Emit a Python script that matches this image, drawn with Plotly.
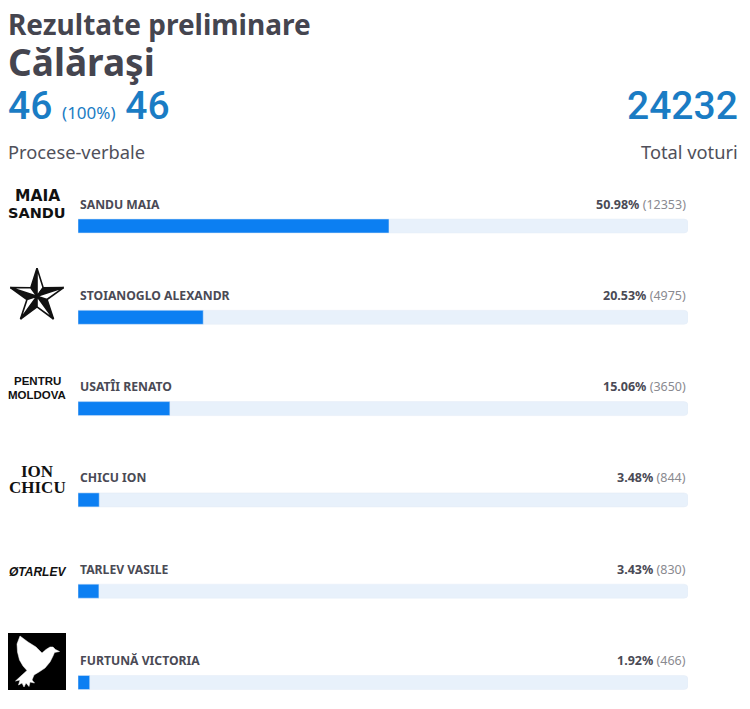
import math
import plotly.graph_objects as go

# --- data ---
district = 'Călăraşi'
pv_counted = 46
pv_share = 100
pv_total = 46
total_votes = 24232

candidates = ['SANDU MAIA', 'STOIANOGLO ALEXANDR', 'USATÎI RENATO',
              'CHICU ION', 'TARLEV VASILE', 'FURTUNĂ VICTORIA']
percents = [50.98, 20.53, 15.06, 3.48, 3.43, 1.92]
votes = [12353, 4975, 3650, 844, 830, 466]

W, H = 750, 709
ROW_PX = 91.3          # distance between rows in pixels
FIRST_ROW_PX = 226     # centre of first bar
BAR_PX = 14

FONT = 'Noto Sans'
NUM_FONT = 'Roboto'
DARK = '#45454f'
BLUE_TXT = '#1a7cc4'
BLUE_BAR = '#0c7ff2'
TRACK = '#e8f1fb'

rows = list(range(len(candidates)))
y_top = -FIRST_ROW_PX / ROW_PX
y_bot = (H - FIRST_ROW_PX) / ROW_PX

fig = go.Figure()
fig.add_trace(go.Bar(y=rows, x=[100] * len(rows), orientation='h', width=BAR_PX / ROW_PX,
                     marker=dict(color=TRACK, cornerradius=4), hoverinfo='skip', showlegend=False))
fig.add_trace(go.Bar(y=rows, x=percents, orientation='h', width=BAR_PX / ROW_PX,
                     marker=dict(color=BLUE_BAR, cornerradius=4), showlegend=False,
                     customdata=votes, hovertemplate='%{x:.2f}% (%{customdata})<extra></extra>'))


def px(x, y):
    return x / W, 1 - y / H


anns = []
shapes = []


def head(text, x, y, size, color, anchor='left', weight='normal', family=FONT):
    xx, yy = px(x, y)
    anns.append(dict(text=text, x=xx, y=yy, xref='paper', yref='paper', xanchor=anchor,
                     yanchor='middle', showarrow=False,
                     font=dict(family=family, size=size, color=color, weight=weight)))


head('<b>Rezultate preliminare</b>', 6, 24, 28, DARK)
head('<b>' + district + '</b>', 6, 62, 37, DARK)
head(f"{pv_counted} <span style='font-size:17px;font-weight:400;font-family:Noto Sans'>"
     f"({pv_share}%)</span> {pv_total}", 6, 106, 39, BLUE_TXT, weight=500, family=NUM_FONT)
head('Procese-verbale', 6, 151, 18.3, '#50505a')
head(str(total_votes), 740, 106, 39, BLUE_TXT, 'right', weight=500, family=NUM_FONT)
head('Total voturi', 740, 151, 18.3, '#50505a', 'right')

for i, (name, p, v) in enumerate(zip(candidates, percents, votes)):
    anns.append(dict(text='<b>' + name + '</b>', x=0, y=i, xref='x', yref='y', xanchor='left',
                     yanchor='middle', yshift=22, showarrow=False,
                     font=dict(family=FONT, size=12.2, color='#4a4a55')))
    anns.append(dict(text=f"<b>{p:.2f}%</b> <span style='color:#8a8a90'>({v})</span>",
                     x=100, y=i, xref='x', yref='y', xanchor='right', yanchor='middle',
                     yshift=22, showarrow=False, font=dict(family=FONT, size=12.5, color='#4a4a55')))


def logo(text, row, shift, family, size, style='normal'):
    anns.append(dict(text=text, x=37 / W, y=row, xref='paper', yref='y', xanchor='center',
                     yanchor='middle', yshift=shift, showarrow=False,
                     font=dict(family=family, size=size, color='#111111', style=style)))


logo('<b>MAIA</b>', 0, 30, 'DejaVu Sans', 15.5)
logo('<b>SANDU</b>', 0, 13, 'DejaVu Sans', 14.5)
logo('<b>PENTRU</b>', 2, 27.5, 'Liberation Sans', 11.5)
logo('<b>MOLDOVA</b>', 2, 13.5, 'Liberation Sans', 11.5)
logo('<b>ION</b>', 3, 28.5, 'Liberation Serif', 17)
logo('<b>CHICU</b>', 3, 12.5, 'Liberation Serif', 17)
logo('<b>ØTARLEV</b>', 4, 19.5, 'Liberation Sans', 12, 'italic')


def to_path(pts):
    return 'M ' + ' L '.join(f'{x:.1f},{y:.1f}' for x, y in pts) + ' Z'


# nautical star logo (row 1), pixels relative to the logo centre
R_OUT, R_IN, LIFT = 28, 10.5, 21
for k in range(5):
    a = math.radians(90 + 72 * k)
    tip = (R_OUT * math.cos(a), LIFT + R_OUT * math.sin(a))
    for side, fill in ((1, '#111111'), (-1, 'white')):
        b = a + side * math.radians(36)
        inner = (R_IN * math.cos(b), LIFT + R_IN * math.sin(b))
        shapes.append(dict(type='path', xref='paper', yref='y', xsizemode='pixel',
                           ysizemode='pixel', xanchor=37 / W, yanchor=1,
                           path=to_path([(0, LIFT), tip, inner]),
                           fillcolor=fill, line=dict(color='#111111', width=1.6)))

# dove logo (row 5): black square with a white dove
SQ_TOP = 49.5
shapes.append(dict(type='rect', xref='paper', yref='y', xsizemode='pixel', ysizemode='pixel',
                   xanchor=0, yanchor=5, x0=8, x1=66, y0=SQ_TOP - 57, y1=SQ_TOP,
                   fillcolor='#000000', line=dict(width=0)))
dove_local = [(12, 3), (20, 9), (28, 14), (34, 20), (38, 16.5), (42, 14), (45, 14), (47.5, 16.5),
              (51.5, 18.5), (46.5, 19.5), (45, 23), (42, 29), (37, 35), (31, 39), (26, 42),
              (24, 47), (26.5, 50), (22, 49), (21, 53.5), (18, 50), (16, 54), (14, 50),
              (10.5, 52), (12, 47), (7.5, 48), (14, 42), (19, 37.5), (15, 33), (11.5, 27),
              (9.5, 19), (9, 11)]
shapes.append(dict(type='path', xref='paper', yref='y', xsizemode='pixel', ysizemode='pixel',
                   xanchor=0, yanchor=5,
                   path=to_path([(8 + x, SQ_TOP - y) for x, y in dove_local]),
                   fillcolor='white', line=dict(color='white', width=0.5)))

fig.update_layout(
    width=W, height=H, margin=dict(l=0, r=0, t=0, b=0),
    paper_bgcolor='white', plot_bgcolor='white', barmode='overlay',
    xaxis=dict(domain=[78 / W, 688 / W], range=[0, 100], visible=False, fixedrange=True),
    yaxis=dict(domain=[0, 1], range=[y_bot, y_top], visible=False, fixedrange=True),
    annotations=anns, shapes=shapes,
)

fig.write_html('out.html', config={'displayModeBar': False},
               post_script="document.body.style.margin='0';")
